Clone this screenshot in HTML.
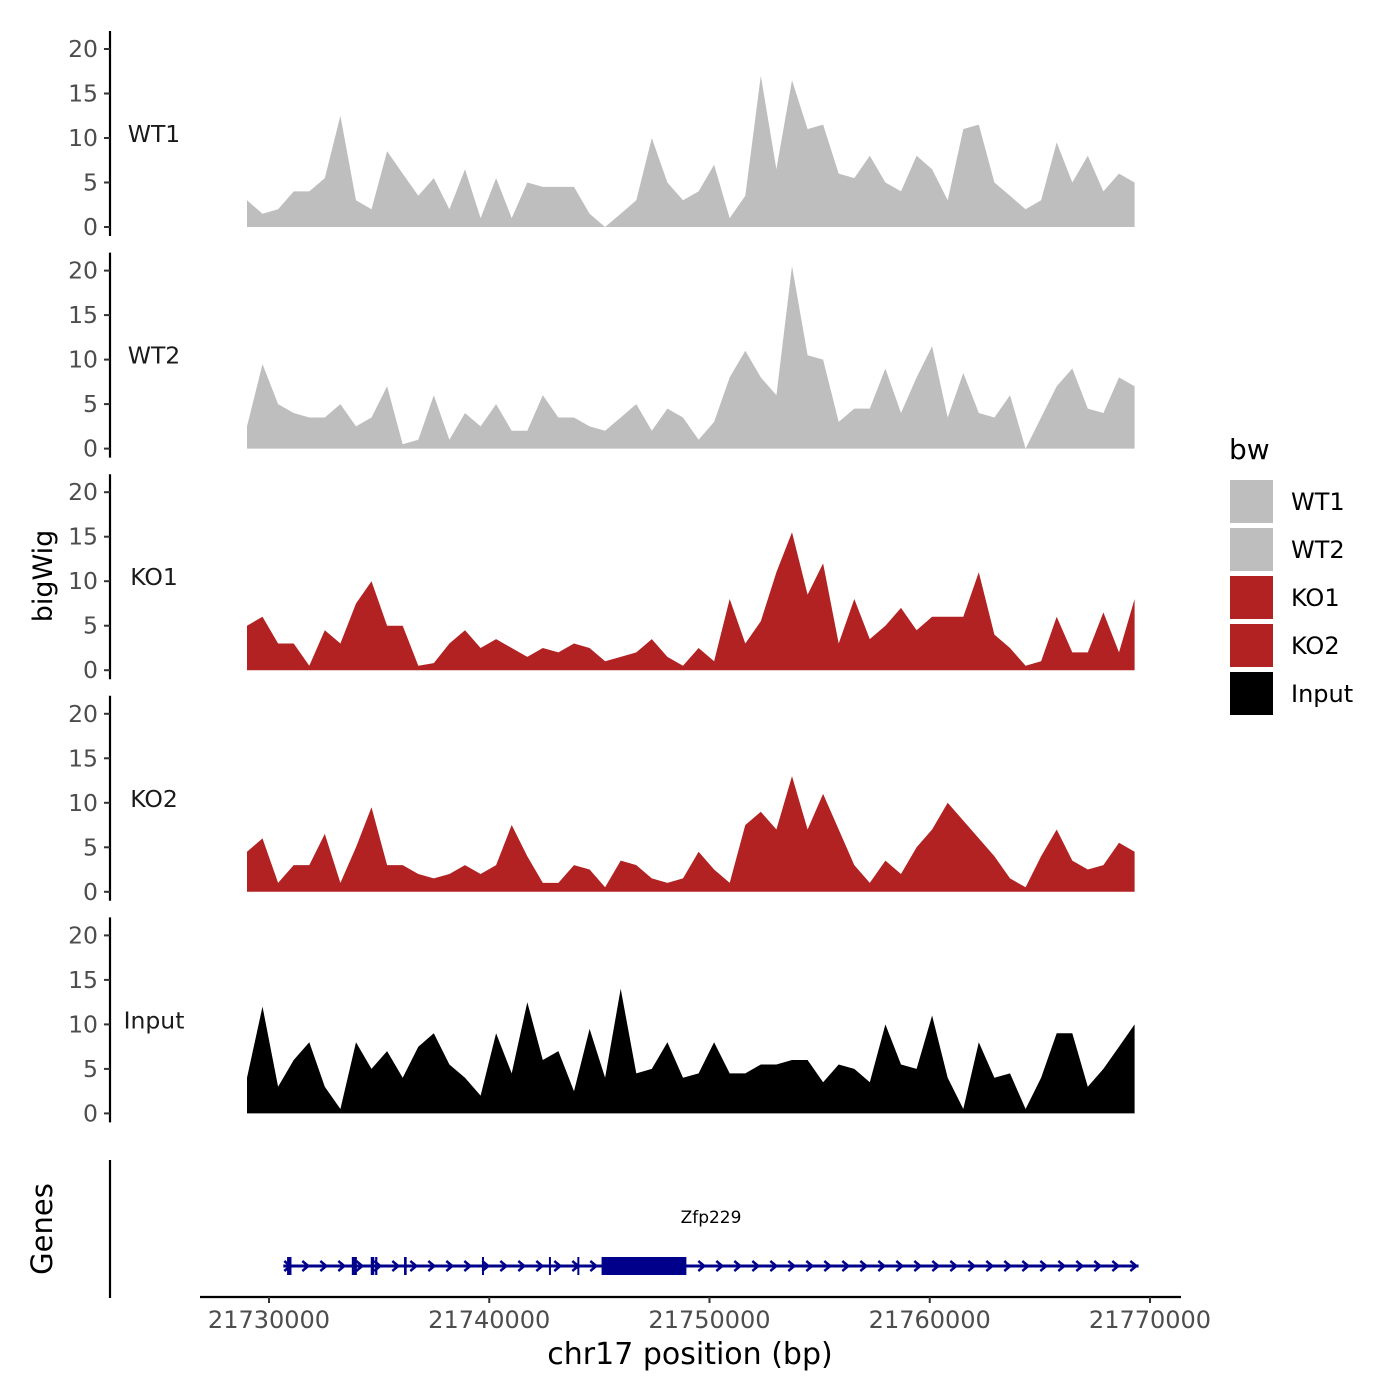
<!DOCTYPE html>
<html><head><meta charset="utf-8"><style>
body{margin:0;background:#fff;}
svg{display:block;font-family:"DejaVu Sans","Liberation Sans",sans-serif;}
</style></head><body>
<svg id="chart" width="1400" height="1400" viewBox="0 0 1400 1400" xmlns="http://www.w3.org/2000/svg">
<g id="tracks"></g>
<g id="genes"></g>
<g id="xaxis"></g>
<text x="52" y="576" transform="rotate(-90 52 576)" text-anchor="middle" font-size="27" fill="#000">bigWig</text>
<text x="52" y="1229" transform="rotate(-90 52 1229)" text-anchor="middle" font-size="29" fill="#000">Genes</text>
<text x="690" y="1364" text-anchor="middle" font-size="30" fill="#000">chr17 position (bp)</text>
<g id="legend"></g>
</svg>
<script>
const NS="http://www.w3.org/2000/svg";
const trackNames=["WT1","WT2","KO1","KO2","Input"];
const trackColors=["#bebebe","#bebebe","#b22222","#b22222","#000000"];
const binStart=21729000;
const binStep=707;
const wt1=[3,1.5,2,4,4,5.5,12.5,3,2,8.5,6,3.5,5.5,2,6.5,1,5.5,1,5,4.5,4.5,4.5,1.5,0,1.5,3,10,5,3,4,7,1,3.5,17,6.5,16.5,11,11.5,6,5.5,8,5,4,8,6.5,3,11,11.5,5,3.5,2,3,9.5,5,8,4,6,5];
const wt2=[2.5,9.5,5,4,3.5,3.5,5,2.5,3.5,7,0.5,1,6,1,4,2.5,5,2,2,6,3.5,3.5,2.5,2,3.5,5,2,4.5,3.5,1,3,8,11,8,6,20.5,10.5,10,3,4.5,4.5,9,4,8,11.5,3.5,8.5,4,3.5,6,0,3.5,7,9,4.5,4,8,7];
const ko1=[5,6,3,3,0.5,4.5,3,7.5,10,5,5,0.5,0.8,3,4.5,2.5,3.5,2.5,1.5,2.5,2,3,2.5,1,1.5,2,3.5,1.5,0.5,2.5,1,8,3,5.5,11,15.5,8.5,12,3,8,3.5,5,7,4.5,6,6,6,11,4,2.5,0.5,1,6,2,2,6.5,2,8];
const ko2=[4.5,6,1,3,3,6.5,1,5,9.5,3,3,2,1.5,2,3,2,3,7.5,4,1,1,3,2.5,0.5,3.5,3,1.5,1,1.5,4.5,2.5,1,7.5,9,7,13,7,11,7,3,1,3.5,2,5,7,10,8,6,4,1.5,0.5,4,7,3.5,2.5,3,5.5,4.5];
const inputSig=[4,12,3,6,8,3,0.5,8,5,7,4,7.5,9,5.5,4,2,9,4.5,12.5,6,7,2.5,9.5,4,14,4.5,5,8,4,4.5,8,4.5,4.5,5.5,5.5,6,6,3.5,5.5,5,3.5,10,5.5,5,11,4,0.5,8,4,4.5,0.5,4,9,9,3,5,7.5,10];
const series=[wt1,wt2,ko1,ko2,inputSig];
const yTicks=[0,5,10,15,20];
const xTicks=[21730000,21740000,21750000,21760000,21770000];
const xTickLabels=["21730000","21740000","21750000","21760000","21770000"];
const exonStarts=[21730820,21733760,21734620,21734820,21736130,21739670,21742710,21744000];
const exonEnds=[21731020,21733990,21734780,21734920,21736250,21739760,21742800,21744090];
const cdsStart=21745100;
const cdsEnd=21748950;
const geneStart=21730650;
const geneEnd=21769480;
const geneLabel="Zfp229";

function X(bp){return 269+(bp-21730000)*881/40000;}
function Y(v,k){return 227+k*221.6-v*8.9;}
function mk(tag,attrs,parent){const e=document.createElementNS(NS,tag);for(const a in attrs)e.setAttribute(a,attrs[a]);parent.appendChild(e);return e;}

const tracks=document.getElementById('tracks');
series.forEach((vals,k)=>{
  const g=mk('g',{},tracks);
  
  
  let d='M'+X(binStart).toFixed(1)+','+Y(0,k).toFixed(1);
  vals.forEach((v,i)=>{d+=' L'+X(binStart+i*binStep).toFixed(1)+','+Y(v,k).toFixed(1);});
  d+=' L'+X(binStart+(vals.length-1)*binStep).toFixed(1)+','+Y(0,k).toFixed(1)+' Z';
  const p=mk('path',{d:d,fill:trackColors[k]},g);
  
  
  const ax=mk('line',{x1:110,x2:110,y1:Y(20,k)-18,y2:Y(0,k)+9,stroke:'#000','stroke-width':2.2},g);
  
  
  yTicks.forEach(t=>{
    const tl=mk('line',{x1:104,x2:110,y1:Y(t,k),y2:Y(t,k),stroke:'#333','stroke-width':2},g);
    
    
    const tx=mk('text',{x:98,y:Y(t,k)+8,'text-anchor':'end','font-size':23.5,fill:'#4d4d4d'},g);
    tx.textContent=t;
    
    
  });
  const lb=mk('text',{x:154,y:Y(10,k)+4,'text-anchor':'middle','font-size':23.5,fill:'#1a1a1a'},g);
  lb.textContent=trackNames[k];
  
  
});

const genes=document.getElementById('genes');
const ga=mk('line',{x1:110,x2:110,y1:1160,y2:1298,stroke:'#000','stroke-width':2.2},genes);


const gy=1266;
const gl=mk('line',{x1:X(geneStart),x2:X(geneEnd),y1:gy,y2:gy,stroke:'#00008b','stroke-width':3},genes);


for(let x=X(geneStart)+4;x<X(geneEnd);x+=18){
  const ar=mk('path',{d:`M${x-3},${gy-5} L${x+3},${gy} L${x-3},${gy+5}`,fill:'none',stroke:'#00008b','stroke-width':2.5},genes);
  
  
}
exonStarts.forEach((s,i)=>{
  const r=mk('rect',{x:X(s),y:gy-9,width:Math.max(2,X(exonEnds[i])-X(s)),height:18,fill:'#00008b'},genes);
  
  
});
const cds=mk('rect',{x:X(cdsStart),y:gy-9,width:X(cdsEnd)-X(cdsStart),height:18,fill:'#00008b'},genes);


const gt=mk('text',{x:711,y:1223,'text-anchor':'middle','font-size':17,fill:'#000'},genes);
gt.textContent=geneLabel;



const xa=document.getElementById('xaxis');
const xl=mk('line',{x1:200,x2:1181,y1:1297,y2:1297,stroke:'#000','stroke-width':2.2},xa);


xTicks.forEach((t,i)=>{
  const tl=mk('line',{x1:X(t),x2:X(t),y1:1297,y2:1303,stroke:'#333','stroke-width':2},xa);
  
  
  const tx=mk('text',{x:X(t),y:1328,'text-anchor':'middle','font-size':24,fill:'#4d4d4d'},xa);
  tx.textContent=xTickLabels[i];
  
  
});

const lg=document.getElementById('legend');
const lt=mk('text',{x:1229,y:459,'font-size':28,fill:'#000'},lg);
lt.textContent='bw';


trackNames.forEach((n,i)=>{
  const y=480+i*48;
  const r=mk('rect',{x:1230,y:y,width:43,height:43,fill:trackColors[i]},lg);
  
  
  const t=mk('text',{x:1291,y:y+30,'font-size':24,fill:'#000'},lg);
  t.textContent=n;
  
  
});
</script>
</body></html>
